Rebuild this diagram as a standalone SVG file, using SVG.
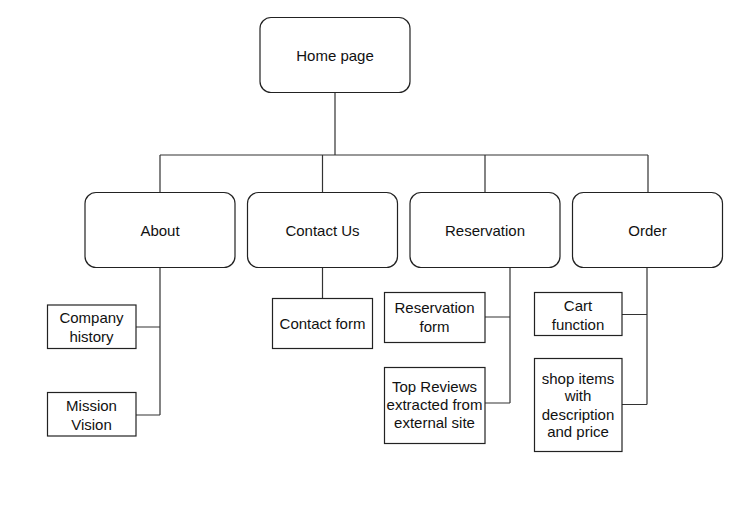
<svg xmlns="http://www.w3.org/2000/svg" width="751" height="512" viewBox="0 0 751 512">
<style>
.rr{fill:#fff;stroke:#222;stroke-width:1.2}
.bx{fill:#fff;stroke:#222;stroke-width:1.2}
.ln{fill:none;stroke:#333;stroke-width:1.2}
text{font-family:"Liberation Sans",Arial,sans-serif;font-size:15px;fill:#111;text-anchor:middle}
</style>
<rect width="751" height="512" fill="#fff"/>
<g id="connectors">
<path class="ln" d="M335 92V155M160 155H648M160 155V192.5M322.5 155V192.5M485 155V192.5M648 155V192.5"/>
<path class="ln" d="M160 267.5V415M136 327H160M136 415H160"/>
<path class="ln" d="M322.5 267.5V298.5"/>
<path class="ln" d="M510 267.5V403M485 317H510M485 403H510"/>
<path class="ln" d="M647 267.5V404.5M622 314.5H647M622 404.5H647"/>
</g>
<g id="home"><rect class="rr" x="260" y="17.5" width="150" height="75" rx="11"/><text x="335" y="61">Home page</text></g>
<g id="about"><rect class="rr" x="85" y="192.5" width="150" height="75" rx="11"/><text x="160" y="236">About</text></g>
<g id="contact"><rect class="rr" x="247.5" y="192.5" width="150" height="75" rx="11"/><text x="322.5" y="236">Contact Us</text></g>
<g id="reservation"><rect class="rr" x="410" y="192.5" width="150" height="75" rx="11"/><text x="485" y="236">Reservation</text></g>
<g id="order"><rect class="rr" x="572.5" y="192.5" width="150" height="75" rx="11"/><text x="647.5" y="236">Order</text></g>
<g id="company-history"><rect class="bx" x="47.5" y="305" width="88.5" height="43.5"/><text x="91.5" y="323">Company</text><text x="91.5" y="342">history</text></g>
<g id="mission-vision"><rect class="bx" x="47.5" y="392.5" width="88.5" height="43.5"/><text x="91.5" y="411">Mission</text><text x="91.5" y="429.5">Vision</text></g>
<g id="contact-form"><rect class="bx" x="272.5" y="298.5" width="100" height="50"/><text x="322.5" y="329">Contact form</text></g>
<g id="reservation-form"><rect class="bx" x="384.5" y="292.5" width="100.5" height="50"/><text x="434.5" y="313">Reservation</text><text x="434.5" y="332">form</text></g>
<g id="top-reviews"><rect class="bx" x="384.5" y="367.5" width="100.5" height="76"/><text x="434.5" y="392">Top Reviews</text><text x="434.5" y="409.5">extracted from</text><text x="434.5" y="427.5">external site</text></g>
<g id="cart-function"><rect class="bx" x="534.5" y="292.5" width="87.5" height="43"/><text x="578" y="311">Cart</text><text x="578" y="329.5">function</text></g>
<g id="shop-items"><rect class="bx" x="534.5" y="358.5" width="87.5" height="93"/><text x="578" y="383.5">shop items</text><text x="578" y="401">with</text><text x="578" y="419.5">description</text><text x="578" y="437">and price</text></g>
</svg>
